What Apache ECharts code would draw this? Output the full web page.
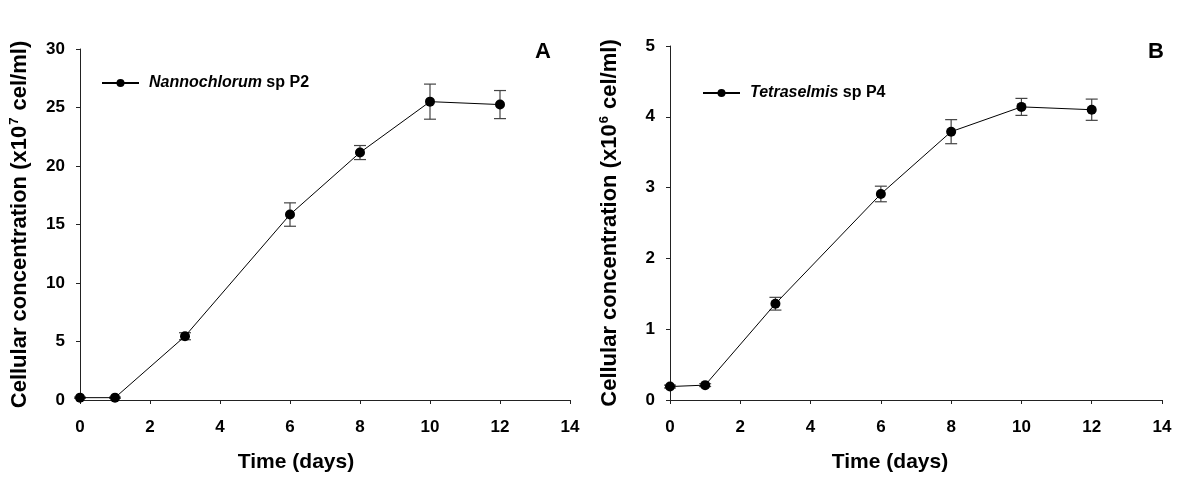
<!DOCTYPE html>
<html>
<head>
<meta charset="utf-8">
<script src="https://cdn.jsdelivr.net/npm/echarts@6/dist/echarts.min.js"></script>
<style>html,body{margin:0;padding:0;background:#fff}#c{width:1200px;height:480px}</style>
</head>
<body>
<div id="c"></div>
<script>
const days = [0, 1, 3, 6, 8, 10, 12];
const xTicks = [0, 2, 4, 6, 8, 10, 12, 14];
// Panel A: Nannochlorum sp P2 (x10^7 cel/ml)
const valuesA = [0.2, 0.2, 5.45, 15.85, 21.15, 25.5, 25.25];
const errorsA = [0.05, 0.05, 0.3, 1.0, 0.6, 1.5, 1.2];
// Panel B: Tetraselmis sp P4 (x10^6 cel/ml)
const valuesB = [0.19, 0.21, 1.36, 2.91, 3.79, 4.14, 4.10];
const errorsB = [0.02, 0.02, 0.09, 0.11, 0.17, 0.12, 0.15];
const yTicksA = [0, 5, 10, 15, 20, 25, 30];
const yTicksB = [0, 1, 2, 3, 4, 5];

const FONT = 'Liberation Sans, Arial, sans-serif';
const chart = echarts.init(document.getElementById('c'));

function pairs(v) { return days.map((d, i) => [d, v[i]]); }
function errData(v, e) { return days.map((d, i) => [d, v[i] - e[i], v[i] + e[i]]); }

function errorSeries(idx, v, e) {
  return {
    type: 'custom', xAxisIndex: idx, yAxisIndex: idx, z: 1,
    data: errData(v, e),
    renderItem: function (params, api) {
      const lo = api.coord([api.value(0), api.value(1)]);
      const hi = api.coord([api.value(0), api.value(2)]);
      const w = 6;
      const st = { stroke: '#444', lineWidth: 1.2 };
      return {
        type: 'group', children: [
          { type: 'line', shape: { x1: lo[0], y1: lo[1], x2: hi[0], y2: hi[1] }, style: st },
          { type: 'line', shape: { x1: lo[0] - w, y1: lo[1], x2: lo[0] + w, y2: lo[1] }, style: st },
          { type: 'line', shape: { x1: hi[0] - w, y1: hi[1], x2: hi[0] + w, y2: hi[1] }, style: st }
        ]
      };
    }
  };
}

function xAxis(idx, shift) {
  return {
    type: 'value', gridIndex: idx, min: 0, max: 14, interval: 2,
    name: 'Time (days)', nameLocation: 'middle', nameGap: 52,
    nameTextStyle: { fontFamily: FONT, fontWeight: 'bold', fontSize: 21, color: '#000', padding: [0, shift, 0, 0] },
    axisLine: { onZero: false, lineStyle: { color: '#222', width: 1 } },
    axisTick: { show: true, length: 4, lineStyle: { color: '#222' } },
    axisLabel: { fontFamily: FONT, fontWeight: 'bold', fontSize: 17, color: '#000', margin: 19,
      formatter: v => xTicks.includes(v) ? String(v) : '' },
    splitLine: { show: false }
  };
}
function yAxis(idx, max, interval, exp, ticks) {
  return {
    type: 'value', gridIndex: idx, min: 0, max: max, interval: interval,
    name: '{t|Cellular concentration (x10}{s|' + exp + '}{t| cel/ml)}',
    nameLocation: 'middle', nameGap: 48,
    nameTextStyle: { fontFamily: FONT, fontWeight: 'bold', fontSize: 22, color: '#000',
      rich: {
        t: { fontFamily: FONT, fontWeight: 'bold', fontSize: 22, color: '#000' },
        s: { fontFamily: FONT, fontWeight: 'bold', fontSize: 13, color: '#000', verticalAlign: 'top', padding: [0, 1, 11, 1] }
      } },
    axisLine: { show: true, lineStyle: { color: '#222', width: 1 } },
    axisTick: { show: true, length: 4, lineStyle: { color: '#222' } },
    axisLabel: { fontFamily: FONT, fontWeight: 'bold', fontSize: 17, color: '#000', margin: 15,
      formatter: v => ticks.includes(v) ? String(v) : '' },
    splitLine: { show: false }
  };
}

function lineSeries(idx, name, v) {
  return {
    type: 'line', name: name, xAxisIndex: idx, yAxisIndex: idx, z: 3,
    data: pairs(v), symbol: 'circle', symbolSize: 10,
    itemStyle: { color: '#000' }, lineStyle: { color: '#000', width: 1 }
  };
}

const legendRich = {
  i: { fontFamily: FONT, fontWeight: 'bold', fontStyle: 'italic', fontSize: 16, color: '#000', padding: [0, 0, 0, 5] },
  n: { fontFamily: FONT, fontWeight: 'bold', fontSize: 16, color: '#000' }
};
function legendFmt(name) {
  const parts = name.split(' ');
  return '{i|' + parts[0] + '}{n| ' + parts.slice(1).join(' ') + '}';
}

chart.setOption({
  animation: false,
  backgroundColor: '#fff',
  grid: [
    { left: 80, right: 630, top: 49, bottom: 80 },
    { left: 670, right: 38, top: 46, bottom: 80 }
  ],
  xAxis: [xAxis(0, 58), xAxis(1, 52)],
  yAxis: [yAxis(0, 30, 5, '7', yTicksA), yAxis(1, 5, 1, '6', yTicksB)],
  legend: [
    { data: ['Nannochlorum sp P2'], left: 96, top: 70, itemWidth: 37, itemHeight: 10, itemGap: 10,
      formatter: legendFmt, textStyle: { rich: legendRich } },
    { data: ['Tetraselmis sp P4'], left: 697, top: 80, itemWidth: 37, itemHeight: 10, itemGap: 10,
      formatter: legendFmt, textStyle: { rich: legendRich } }
  ],
  graphic: [
    { type: 'text', left: 535, top: 41, style: { text: 'A', font: 'bold 22px ' + FONT, fill: '#000' } },
    { type: 'text', left: 1148, top: 41, style: { text: 'B', font: 'bold 22px ' + FONT, fill: '#000' } }
  ],
  series: [
    errorSeries(0, valuesA, errorsA),
    lineSeries(0, 'Nannochlorum sp P2', valuesA),
    errorSeries(1, valuesB, errorsB),
    lineSeries(1, 'Tetraselmis sp P4', valuesB)
  ]
});
</script>
</body>
</html>
